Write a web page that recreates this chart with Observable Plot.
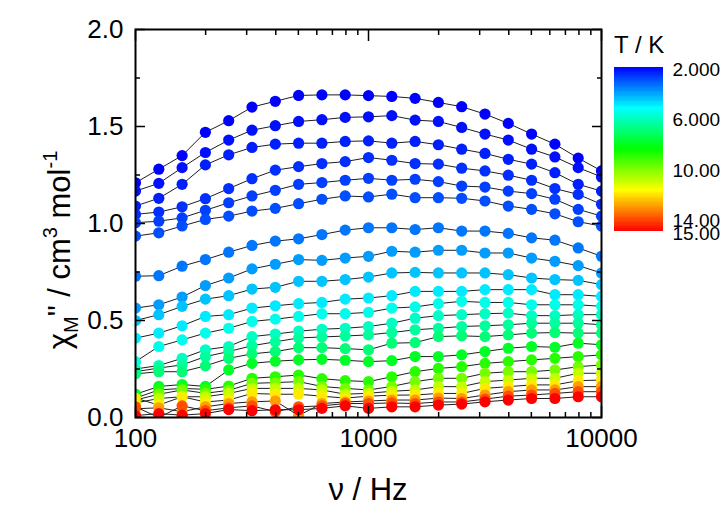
<!DOCTYPE html>
<html><head><meta charset="utf-8">
<script src="https://cdn.jsdelivr.net/npm/d3@7"></script>
<script src="https://cdn.jsdelivr.net/npm/@observablehq/plot@0.6"></script>
<style>
html,body{margin:0;padding:0;background:#fff;}
#wrap{position:relative;width:726px;height:508px;font-family:"Liberation Sans",Arial,sans-serif;}
#chart{position:absolute;left:0;top:0;}
#legend{position:absolute;left:600px;top:0;}
#ttl{position:absolute;left:614px;top:33px;font-size:24px;line-height:24px;color:#000;}
</style></head><body>
<div id="wrap"><div id="chart"></div><div id="legend"></div><div id="ttl">T / K</div></div>
<script>
// frequencies (Hz)
const freq = [100,125.9,158.5,199.5,251.2,316.2,398.1,501.2,631,794.3,1000,1259,1585,1995,2512,3162,3981,5012,6310,7943,10000];
// temperatures (K)
const temps = [2.0,2.2,2.4,2.6,2.8,3.0,3.5,4.0,4.5,5.0,5.5,6.0,6.5,7.0,8.0,9.0,10,11,12,13,14,15];
// chi'' values per temperature
const t2_0 = [1.21,1.28,1.35,1.47,1.53,1.60,1.63,1.66,1.663,1.663,1.659,1.655,1.645,1.624,1.602,1.564,1.516,1.461,1.409,1.337,1.271];
const t2_2 = [1.167,1.207,1.288,1.366,1.43,1.481,1.504,1.526,1.535,1.547,1.55,1.556,1.533,1.526,1.495,1.461,1.43,1.383,1.343,1.288,1.24];
const t2_4 = [1.09,1.13,1.202,1.302,1.354,1.392,1.409,1.414,1.414,1.423,1.426,1.414,1.423,1.406,1.383,1.361,1.331,1.306,1.262,1.202,1.167];
const t2_6 = [1.047,1.059,1.086,1.128,1.18,1.231,1.275,1.293,1.309,1.319,1.34,1.326,1.309,1.306,1.285,1.271,1.249,1.223,1.18,1.15,1.099];
const t2_8 = [1.004,1.012,1.029,1.068,1.107,1.142,1.171,1.202,1.211,1.223,1.233,1.223,1.228,1.216,1.193,1.188,1.167,1.154,1.125,1.073,1.038];
const t3_0 = [0.935,0.952,0.987,1.021,1.038,1.064,1.078,1.102,1.125,1.142,1.137,1.151,1.133,1.133,1.13,1.116,1.09,1.073,1.05,1.009,0.987];
const t3_5 = [0.728,0.731,0.78,0.814,0.852,0.887,0.909,0.921,0.943,0.966,0.978,0.978,0.969,0.978,0.961,0.961,0.949,0.926,0.914,0.874,0.831];
const t4_0 = [0.564,0.581,0.621,0.68,0.719,0.766,0.79,0.814,0.81,0.822,0.831,0.857,0.852,0.862,0.862,0.848,0.848,0.822,0.805,0.783,0.745];
const t4_5 = [0.5,0.53,0.573,0.61,0.628,0.662,0.671,0.702,0.702,0.711,0.724,0.745,0.748,0.745,0.745,0.745,0.736,0.719,0.711,0.707,0.685];
const t5_0 = [0.409,0.435,0.473,0.521,0.53,0.564,0.576,0.587,0.593,0.61,0.616,0.628,0.65,0.65,0.65,0.659,0.659,0.659,0.633,0.633,0.624];
const t5_5 = [0.288,0.366,0.40,0.435,0.46,0.495,0.507,0.521,0.535,0.535,0.542,0.564,0.57,0.587,0.599,0.593,0.593,0.581,0.581,0.581,0.573];
const t6_0 = [0.25,0.268,0.305,0.349,0.366,0.417,0.43,0.445,0.455,0.46,0.469,0.486,0.512,0.525,0.53,0.535,0.538,0.525,0.525,0.53,0.53];
const t6_5 = [0.236,0.255,0.271,0.314,0.34,0.37,0.39,0.41,0.415,0.42,0.426,0.438,0.452,0.46,0.469,0.473,0.478,0.486,0.486,0.486,0.478];
const t7_0 = [0.225,0.236,0.236,0.266,0.305,0.328,0.34,0.36,0.36,0.355,0.349,0.383,0.386,0.417,0.421,0.417,0.426,0.435,0.438,0.435,0.435];
const t8_0 = [0.12,0.16,0.17,0.16,0.245,0.279,0.29,0.297,0.3,0.295,0.288,0.293,0.314,0.314,0.323,0.34,0.357,0.366,0.362,0.383,0.375];
const t9_0 = [0.1,0.142,0.15,0.145,0.162,0.202,0.21,0.219,0.2,0.19,0.185,0.21,0.236,0.253,0.262,0.279,0.288,0.297,0.305,0.314,0.323];
const t10 = [0.09,0.12,0.142,0.125,0.14,0.176,0.18,0.185,0.16,0.15,0.142,0.16,0.185,0.202,0.202,0.228,0.236,0.236,0.245,0.262,0.271];
const t11 = [0.075,0.098,0.107,0.107,0.124,0.15,0.15,0.15,0.142,0.12,0.125,0.135,0.142,0.159,0.159,0.185,0.193,0.202,0.202,0.228,0.228];
const t12 = [0.1,0.064,0.107,0.08,0.09,0.124,0.12,0.12,0.11,0.1,0.11,0.115,0.116,0.124,0.124,0.15,0.159,0.168,0.168,0.19,0.193];
const t13 = [0.045,0.05,0.03,0.055,0.072,0.081,0.085,0.01,0.072,0.08,0.085,0.09,0.09,0.1,0.098,0.116,0.133,0.142,0.142,0.159,0.159];
const t14 = [0.055,0.0,0.06,0.035,0.05,0.06,0.03,0.055,0.06,0.072,0.072,0.075,0.072,0.08,0.08,0.095,0.11,0.116,0.124,0.133,0.133];
const t15 = [0.01,0.02,0.012,0.02,0.041,0.035,0.04,0.04,0.047,0.06,0.047,0.055,0.055,0.064,0.069,0.081,0.09,0.098,0.098,0.107,0.107];
const series = [t2_0,t2_2,t2_4,t2_6,t2_8,t3_0,t3_5,t4_0,t4_5,t5_0,t5_5,t6_0,t6_5,t7_0,t8_0,t9_0,t10,t11,t12,t13,t14,t15];

// axis ticks
const xMajor = [100,1000,10000];
const xMinor = [200,300,400,500,600,700,800,900,2000,3000,4000,5000,6000,7000,8000,9000];
const yMajor = [0,0.5,1.0,1.5,2.0];
const yMinor = [0.25,0.75,1.25,1.75];
// colour bar
const cbarDomain = [2,5.25,8.5,11.75,15];
const cbarColors = ["#0000ff","#00ffff","#00ff00","#ffff00","#ff0000"];
const legendTicks = [2,6,10,14,15];
const legendLabels = ["2.000","6.000","10.00","14.00","15.00"];

const fontFamily = '"Liberation Sans", Arial, sans-serif';
const colorScale = {type:"linear", domain: cbarDomain, range: cbarColors};

const marks = [];
series.forEach((vals, k) => {
  const d = vals.map((v, i) => ({f: freq[i], chi: v, T: temps[k]}));
  marks.push(Plot.line(d, {x:"f", y:"chi", stroke:"#1e1e1e", strokeWidth:1, clip:true}));
  marks.push(Plot.dot(d, {x:"f", y:"chi", fill:"T", r:5.6, clip:true}));
});

const tickOpts = {label:null, tickFormat: () => "", stroke:"black", strokeWidth:1.5};
const chart = Plot.plot({
  width: 726, height: 508,
  marginLeft: 135, marginRight: 125, marginTop: 29, marginBottom: 91,
  style: {fontFamily, fontSize:"26px", color:"black", background:"white", overflow:"visible"},
  x: {type:"log", domain:[100,10000], label:null},
  y: {domain:[0,2], label:null},
  color: colorScale,
  marks: [
    ...marks,
    Plot.axisX(xMajor, {...tickOpts, anchor:"bottom", tickSize:-11}),
    Plot.axisX(xMinor, {...tickOpts, anchor:"bottom", tickSize:-5}),
    Plot.axisX(xMajor, {...tickOpts, anchor:"top", tickSize:-11}),
    Plot.axisX(xMinor, {...tickOpts, anchor:"top", tickSize:-5}),
    Plot.axisY(yMajor, {...tickOpts, anchor:"left", tickSize:-10}),
    Plot.axisY(yMinor, {...tickOpts, anchor:"left", tickSize:-5}),
    Plot.axisY(yMajor, {...tickOpts, anchor:"right", tickSize:-10}),
    Plot.axisY(yMinor, {...tickOpts, anchor:"right", tickSize:-5}),
    Plot.axisX(xMajor, {anchor:"bottom", label:null, tickSize:0, tickPadding:11, tickFormat: d => String(d), fontSize:26}),
    Plot.axisY(yMajor, {anchor:"left", label:null, tickSize:0, tickPadding:12, tickFormat: d3.format(".1f"), fontSize:26}),
    Plot.frame({stroke:"black", strokeWidth:2})
  ]
});
document.getElementById("chart").appendChild(chart);

// axis titles
const svg = d3.select(chart);
svg.append("text")
  .attr("x", 368).attr("y", 500)
  .attr("text-anchor", "middle")
  .attr("font-size", 31).attr("fill", "black")
  .text("ν / Hz");
const yt = svg.append("text")
  .attr("transform", "translate(70,250) rotate(-90)")
  .attr("text-anchor", "middle")
  .attr("font-size", 31).attr("fill", "black");
yt.append("tspan").text("χ");
yt.append("tspan").attr("font-size", 20).attr("dy", 8).text("M");
yt.append("tspan").attr("font-size", 31).attr("dy", -8).text("\"");
yt.append("tspan").text(" / cm");
yt.append("tspan").attr("font-size", 20).attr("dy", -13).text("3");
yt.append("tspan").attr("font-size", 31).attr("dy", 13).text(" mol");
yt.append("tspan").attr("font-size", 20).attr("dy", -13).text("-1");

// colour bar legend
const slices = d3.range(2, 15, 0.1).map(t => ({t0: t, t1: Math.min(15, t + 0.16), tm: t + 0.05}));
const legend = Plot.plot({
  width: 126, height: 250,
  marginLeft: 0, marginRight: 0, marginTop: 0, marginBottom: 0,
  style: {fontFamily, fontSize:"19px", color:"black", background:"transparent", overflow:"visible"},
  x: {domain:[0,1], range:[14,63], axis:null},
  y: {domain:[2,15], range:[67,231], axis:null},
  color: colorScale,
  marks: [
    Plot.rect(slices, {x1:0, x2:1, y1:"t0", y2:"t1", fill:"tm", shapeRendering:"crispEdges"}),
    Plot.text(legendTicks, {x:1, y: d => d, text: (d, i) => legendLabels[i], dx:9, dy:2, textAnchor:"start", fontSize:19, fill:"black"})
  ]
});
document.getElementById("legend").appendChild(legend);
</script></body></html>
